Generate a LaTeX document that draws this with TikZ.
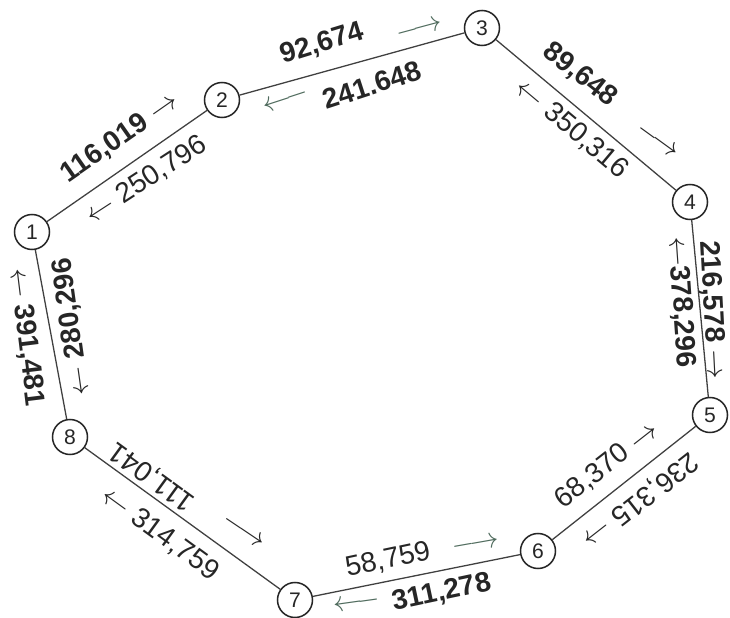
\documentclass[tikz,border=0pt]{standalone}
\usepackage{fontspec}
\setmainfont{Liberation Sans}
\usetikzlibrary{positioning}
\definecolor{ringInk}{HTML}{262626}
\definecolor{ringEdge}{HTML}{404040}
\definecolor{ringGreen}{HTML}{4E6A5C}

\begin{document}
\begin{tikzpicture}[x=0.03cm,y=0.03cm,
  city/.style={circle, draw=ringInk, line width=1.3pt, minimum size=1.05cm, inner sep=0pt, text=ringInk, font=\fontsize{18}{20}\selectfont},
  edge/.style={draw=ringEdge, line width=1.1pt},
  flow/.style={text=ringInk, inner sep=1pt, font=\fontsize{24}{26}\selectfont},
  heavy/.style={flow, font=\fontsize{24}{26}\selectfont\bfseries},
  tip/.style={text=ringGreen, inner sep=0pt, font=\fontsize{28}{30}\selectfont}]
\useasboundingbox (0,0) rectangle (730,618);

% the eight places on the ring
\node[city] (n1) at (32,386) {1};
\node[city] (n2) at (222,518) {2};
\node[city] (n3) at (482,590) {3};
\node[city] (n4) at (690,416) {4};
\node[city] (n5) at (710,203) {5};
\node[city] (n6) at (538,67) {6};
\node[city] (n7) at (295,18) {7};
\node[city] (n8) at (70,181) {8};

\draw[edge] (n1) -- (n2);
\draw[edge] (n2) -- (n3);
\draw[edge] (n3) -- (n4);
\draw[edge] (n4) -- (n5);
\draw[edge] (n5) -- (n6);
\draw[edge] (n6) -- (n7);
\draw[edge] (n7) -- (n8);
\draw[edge] (n8) -- (n1);

% flows in both directions
\node[heavy, rotate=35] (f12) at (120,480) {116,019 $\rightarrow$};
\node[flow, rotate=33] (f21) at (146,438) {$\leftarrow$ 250,796};

\node[heavy, rotate=17] (f23) at (322,574) {92,674};
\node[tip, rotate=15] (t23) at (420,588) {$\longrightarrow$};
\node[heavy, rotate=18] (f32) at (372,533) {241.648};
\node[tip, rotate=18] (t32) at (286,517) {$\longleftarrow$};

\node[heavy, rotate=-38] (f34) at (580,543) {89,648};
\node[flow, rotate=-36] (t34) at (657,476) {$\longrightarrow$};
\node[flow, rotate=-40] (f43) at (572,489) {$\leftarrow$ 350,316};

\node[heavy, rotate=-87] (f45) at (712,308) {216,578 $\rightarrow$};
\node[heavy, rotate=-86] (f54) at (681,316) {$\leftarrow$378,296};

\node[flow, rotate=38] (f65) at (607,153) {68,370 $\rightarrow$};
\node[flow, rotate=218] (f56) at (640,118) {236,315 $\rightarrow$};

\node[flow, rotate=12] (f76) at (388,58) {58,759};
\node[tip, rotate=10] (t76) at (476,73) {$\longrightarrow$};
\node[heavy, rotate=12] (f67) at (442,25) {311,278};
\node[tip, rotate=8] (t67) at (357,14) {$\longleftarrow$};

\node[flow, rotate=144] (f87) at (152,142) {111,041};
\node[flow, rotate=-34] (t87) at (243,86) {$\longrightarrow$};
\node[flow, rotate=-36] (f78) at (160,84) {$\leftarrow$ 314,759};

\node[heavy, rotate=-83] (f81) at (26,281) {$\leftarrow$ 391,481};
\node[heavy, rotate=98] (f18) at (72,291) {$\leftarrow$ 280,296};
\end{tikzpicture}
\end{document}
